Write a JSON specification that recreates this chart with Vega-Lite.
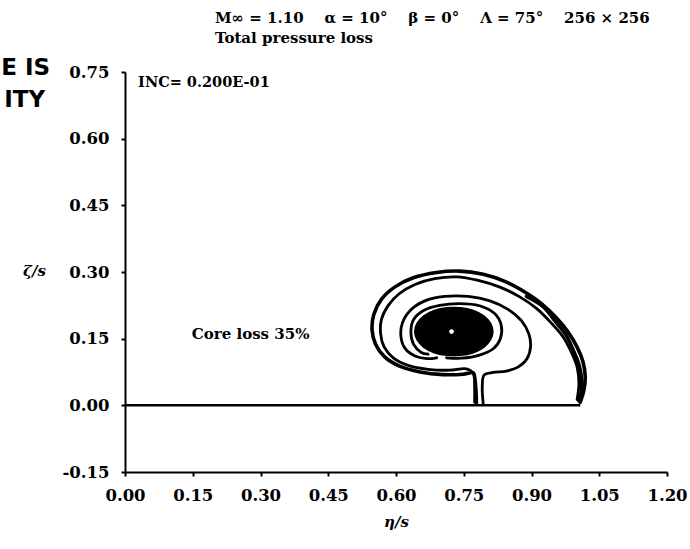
{
  "$schema": "https://vega.github.io/schema/vega-lite/v6.json",
  "width": 542,
  "height": 400,
  "autosize": {"type": "none"},
  "padding": {"left": 125, "top": 72, "right": 23, "bottom": 77},
  "background": "white",
  "config": {
    "view": {"stroke": null},
    "font": "DejaVu Serif"
  },
  "title": {
    "text": ["M∞ = 1.10\u00a0\u00a0\u00a0 α = 10°\u00a0\u00a0\u00a0 β = 0°\u00a0\u00a0\u00a0 Λ = 75°\u00a0\u00a0\u00a0 256 × 256", "Total pressure loss"],
    "anchor": "start",
    "frame": "group",
    "dx": 90,
    "dy": 14,
    "offset": 10,
    "baseline": "bottom",
    "font": "DejaVu Serif",
    "fontSize": 15,
    "fontWeight": "bold",
    "lineHeight": 20,
    "color": "black"
  },
  "datasets": {
    "contours": [
      {"c": "A", "i": 1, "x": 1.008, "y": 0.007},
      {"c": "A", "i": 2, "x": 1.016, "y": 0.034},
      {"c": "A", "i": 3, "x": 1.019, "y": 0.064},
      {"c": "A", "i": 4, "x": 1.014, "y": 0.098},
      {"c": "A", "i": 5, "x": 1.001, "y": 0.131},
      {"c": "A", "i": 6, "x": 0.981, "y": 0.165},
      {"c": "A", "i": 7, "x": 0.955, "y": 0.197},
      {"c": "A", "i": 8, "x": 0.922, "y": 0.229},
      {"c": "A", "i": 9, "x": 0.885, "y": 0.255},
      {"c": "A", "i": 10, "x": 0.841, "y": 0.279},
      {"c": "A", "i": 11, "x": 0.793, "y": 0.295},
      {"c": "A", "i": 12, "x": 0.741, "y": 0.302},
      {"c": "A", "i": 13, "x": 0.690, "y": 0.299},
      {"c": "A", "i": 14, "x": 0.638, "y": 0.287},
      {"c": "A", "i": 15, "x": 0.597, "y": 0.266},
      {"c": "A", "i": 16, "x": 0.568, "y": 0.239},
      {"c": "A", "i": 17, "x": 0.551, "y": 0.205},
      {"c": "A", "i": 18, "x": 0.547, "y": 0.170},
      {"c": "A", "i": 19, "x": 0.555, "y": 0.137},
      {"c": "A", "i": 20, "x": 0.575, "y": 0.109},
      {"c": "A", "i": 21, "x": 0.608, "y": 0.088},
      {"c": "A", "i": 22, "x": 0.653, "y": 0.075},
      {"c": "A", "i": 23, "x": 0.704, "y": 0.069},
      {"c": "A", "i": 24, "x": 0.749, "y": 0.070},
      {"c": "A", "i": 25, "x": 0.771, "y": 0.073},
      {"c": "A", "i": 26, "x": 0.774, "y": 0.064},
      {"c": "A", "i": 27, "x": 0.777, "y": 0.034},
      {"c": "A", "i": 28, "x": 0.778, "y": 0.005},
      {"c": "E", "i": 1, "x": 0.889, "y": 0.245},
      {"c": "E", "i": 2, "x": 0.927, "y": 0.221},
      {"c": "E", "i": 3, "x": 0.951, "y": 0.191},
      {"c": "E", "i": 4, "x": 0.976, "y": 0.159},
      {"c": "E", "i": 5, "x": 0.992, "y": 0.125},
      {"c": "E", "i": 6, "x": 1.005, "y": 0.092},
      {"c": "E", "i": 7, "x": 1.011, "y": 0.060},
      {"c": "E", "i": 8, "x": 1.010, "y": 0.030},
      {"c": "E", "i": 9, "x": 1.005, "y": 0.010},
      {"c": "B", "i": 1, "x": 1.001, "y": 0.013},
      {"c": "B", "i": 2, "x": 1.005, "y": 0.049},
      {"c": "B", "i": 3, "x": 1.001, "y": 0.086},
      {"c": "B", "i": 4, "x": 0.988, "y": 0.120},
      {"c": "B", "i": 5, "x": 0.970, "y": 0.154},
      {"c": "B", "i": 6, "x": 0.944, "y": 0.185},
      {"c": "B", "i": 7, "x": 0.911, "y": 0.218},
      {"c": "B", "i": 8, "x": 0.874, "y": 0.244},
      {"c": "B", "i": 9, "x": 0.830, "y": 0.266},
      {"c": "B", "i": 10, "x": 0.782, "y": 0.281},
      {"c": "B", "i": 11, "x": 0.734, "y": 0.289},
      {"c": "B", "i": 12, "x": 0.686, "y": 0.285},
      {"c": "B", "i": 13, "x": 0.642, "y": 0.272},
      {"c": "B", "i": 14, "x": 0.607, "y": 0.251},
      {"c": "B", "i": 15, "x": 0.583, "y": 0.225},
      {"c": "B", "i": 16, "x": 0.568, "y": 0.194},
      {"c": "B", "i": 17, "x": 0.566, "y": 0.161},
      {"c": "B", "i": 18, "x": 0.574, "y": 0.131},
      {"c": "B", "i": 19, "x": 0.594, "y": 0.107},
      {"c": "B", "i": 20, "x": 0.627, "y": 0.090},
      {"c": "B", "i": 21, "x": 0.671, "y": 0.081},
      {"c": "B", "i": 22, "x": 0.719, "y": 0.079},
      {"c": "B", "i": 23, "x": 0.756, "y": 0.082},
      {"c": "B", "i": 24, "x": 0.772, "y": 0.071},
      {"c": "B", "i": 25, "x": 0.774, "y": 0.041},
      {"c": "B", "i": 26, "x": 0.774, "y": 0.007},
      {"c": "C", "i": 1, "x": 0.793, "y": 0.005},
      {"c": "C", "i": 2, "x": 0.791, "y": 0.041},
      {"c": "C", "i": 3, "x": 0.795, "y": 0.068},
      {"c": "C", "i": 4, "x": 0.815, "y": 0.074},
      {"c": "C", "i": 5, "x": 0.844, "y": 0.077},
      {"c": "C", "i": 6, "x": 0.870, "y": 0.086},
      {"c": "C", "i": 7, "x": 0.890, "y": 0.105},
      {"c": "C", "i": 8, "x": 0.898, "y": 0.133},
      {"c": "C", "i": 9, "x": 0.894, "y": 0.161},
      {"c": "C", "i": 10, "x": 0.878, "y": 0.190},
      {"c": "C", "i": 11, "x": 0.848, "y": 0.216},
      {"c": "C", "i": 12, "x": 0.808, "y": 0.235},
      {"c": "C", "i": 13, "x": 0.760, "y": 0.245},
      {"c": "C", "i": 14, "x": 0.708, "y": 0.245},
      {"c": "C", "i": 15, "x": 0.664, "y": 0.235},
      {"c": "C", "i": 16, "x": 0.632, "y": 0.214},
      {"c": "C", "i": 17, "x": 0.614, "y": 0.185},
      {"c": "C", "i": 18, "x": 0.611, "y": 0.154},
      {"c": "C", "i": 19, "x": 0.620, "y": 0.128},
      {"c": "C", "i": 20, "x": 0.642, "y": 0.111},
      {"c": "C", "i": 21, "x": 0.669, "y": 0.105},
      {"c": "C", "i": 22, "x": 0.690, "y": 0.107},
      {"c": "D", "i": 1, "x": 0.671, "y": 0.115},
      {"c": "D", "i": 2, "x": 0.656, "y": 0.119},
      {"c": "D", "i": 3, "x": 0.639, "y": 0.137},
      {"c": "D", "i": 4, "x": 0.633, "y": 0.165},
      {"c": "D", "i": 5, "x": 0.639, "y": 0.193},
      {"c": "D", "i": 6, "x": 0.662, "y": 0.214},
      {"c": "D", "i": 7, "x": 0.697, "y": 0.225},
      {"c": "D", "i": 8, "x": 0.741, "y": 0.229},
      {"c": "D", "i": 9, "x": 0.785, "y": 0.224},
      {"c": "D", "i": 10, "x": 0.819, "y": 0.206},
      {"c": "D", "i": 11, "x": 0.833, "y": 0.180},
      {"c": "D", "i": 12, "x": 0.831, "y": 0.150},
      {"c": "D", "i": 13, "x": 0.816, "y": 0.128},
      {"c": "D", "i": 14, "x": 0.785, "y": 0.113},
      {"c": "D", "i": 15, "x": 0.745, "y": 0.106},
      {"c": "D", "i": 16, "x": 0.712, "y": 0.107}
    ],
    "core": [
      {"i": 1, "x": 0.814, "y": 0.166},
      {"i": 2, "x": 0.809, "y": 0.184},
      {"i": 3, "x": 0.794, "y": 0.201},
      {"i": 4, "x": 0.771, "y": 0.213},
      {"i": 5, "x": 0.743, "y": 0.219},
      {"i": 6, "x": 0.713, "y": 0.219},
      {"i": 7, "x": 0.685, "y": 0.213},
      {"i": 8, "x": 0.662, "y": 0.201},
      {"i": 9, "x": 0.647, "y": 0.184},
      {"i": 10, "x": 0.642, "y": 0.166},
      {"i": 11, "x": 0.647, "y": 0.148},
      {"i": 12, "x": 0.662, "y": 0.131},
      {"i": 13, "x": 0.685, "y": 0.119},
      {"i": 14, "x": 0.713, "y": 0.113},
      {"i": 15, "x": 0.743, "y": 0.113},
      {"i": 16, "x": 0.771, "y": 0.119},
      {"i": 17, "x": 0.794, "y": 0.131},
      {"i": 18, "x": 0.809, "y": 0.148}
    ],
    "surface": [
      {"i": 1, "x": 0.0, "y": 0.0},
      {"i": 2, "x": 1.008, "y": 0.0}
    ],
    "notes": [
      {"label": "INC= 0.200E-01", "x": 0.029, "y": 0.725, "kind": "inc"},
      {"label": "Core loss 35%", "x": 0.148, "y": 0.161, "kind": "core"}
    ]
  },
  "encoding": {
    "x": {
      "field": "x",
      "type": "quantitative",
      "scale": {"domain": [0, 1.2], "nice": false, "zero": false},
      "axis": {
        "title": "η/s",
        "values": [0, 0.15, 0.3, 0.45, 0.6, 0.75, 0.9, 1.05, 1.2],
        "labelExpr": "datum.value < 0 ? '-' + format(-datum.value, '.2f') : format(datum.value, '.2f')",
        "grid": false,
        "domainColor": "black",
        "domainWidth": 2,
        "tickColor": "black",
        "tickWidth": 2,
        "tickSize": 4,
        "labelFont": "DejaVu Serif",
        "labelFontWeight": "bold",
        "labelFontSize": 16.5,
        "labelColor": "black",
        "labelPadding": 11,
        "labelFlush": false,
        "titleFont": "DejaVu Serif",
        "titleFontStyle": "italic",
        "titleFontWeight": "bold",
        "titleFontSize": 15,
        "titleColor": "black",
        "titlePadding": 11
      }
    },
    "y": {
      "field": "y",
      "type": "quantitative",
      "scale": {"domain": [-0.15, 0.75], "nice": false, "zero": false},
      "axis": {
        "title": "ζ/s",
        "values": [-0.15, 0, 0.15, 0.3, 0.45, 0.6, 0.75],
        "labelExpr": "datum.value < 0 ? '-' + format(-datum.value, '.2f') : format(datum.value, '.2f')",
        "grid": false,
        "domainColor": "black",
        "domainWidth": 2,
        "tickColor": "black",
        "tickWidth": 2,
        "tickSize": 4,
        "labelFont": "DejaVu Serif",
        "labelFontWeight": "bold",
        "labelFontSize": 16.5,
        "labelColor": "black",
        "labelPadding": 12,
        "labelFlush": false,
        "titleFont": "DejaVu Serif",
        "titleFontStyle": "italic",
        "titleFontWeight": "bold",
        "titleFontSize": 15,
        "titleColor": "black",
        "titleAngle": 0,
        "titleAlign": "center",
        "titleBaseline": "middle",
        "titleX": -91,
        "titleY": 198
      }
    }
  },
  "layer": [
    {
      "data": {"name": "surface"},
      "mark": {"type": "line", "stroke": "black", "strokeWidth": 2.5},
      "encoding": {"order": {"field": "i", "type": "quantitative"}}
    },
    {
      "data": {"name": "contours"},
      "transform": [{"filter": "datum.c === 'A' || datum.c === 'E'"}],
      "mark": {"type": "line", "stroke": "black", "strokeWidth": 3.6, "interpolate": "catmull-rom", "strokeJoin": "round", "strokeCap": "round"},
      "encoding": {
        "detail": {"field": "c", "type": "nominal"},
        "order": {"field": "i", "type": "quantitative"}
      }
    },
    {
      "data": {"name": "contours"},
      "transform": [{"filter": "datum.c === 'B' || datum.c === 'C' || datum.c === 'D'"}],
      "mark": {"type": "line", "stroke": "black", "strokeWidth": 2.8, "interpolate": "catmull-rom", "strokeJoin": "round", "strokeCap": "round"},
      "encoding": {
        "detail": {"field": "c", "type": "nominal"},
        "order": {"field": "i", "type": "quantitative"}
      }
    },
    {
      "data": {"name": "core"},
      "mark": {"type": "line", "stroke": "black", "fill": "black", "strokeWidth": 2, "interpolate": "cardinal-closed"},
      "encoding": {"order": {"field": "i", "type": "quantitative"}}
    },
    {
      "data": {"values": [{"x": 0.723, "y": 0.166}]},
      "mark": {"type": "point", "shape": "circle", "filled": true, "color": "white", "size": 22, "opacity": 1}
    },
    {
      "data": {"name": "notes"},
      "transform": [{"filter": "datum.kind === 'inc'"}],
      "mark": {"type": "text", "align": "left", "baseline": "middle", "font": "DejaVu Serif", "fontWeight": "bold", "fontSize": 14.5, "color": "black"},
      "encoding": {"text": {"field": "label"}}
    },
    {
      "data": {"name": "notes"},
      "transform": [{"filter": "datum.kind === 'core'"}],
      "mark": {"type": "text", "align": "left", "baseline": "middle", "font": "DejaVu Serif", "fontWeight": "bold", "fontSize": 15, "color": "black"},
      "encoding": {"text": {"field": "label"}}
    },
    {
      "data": {"values": [
        {"label": "E IS", "x": -0.166, "y": 0.759},
        {"label": "ITY", "x": -0.177, "y": 0.686}
      ]},
      "mark": {"type": "text", "align": "right", "baseline": "middle", "font": "DejaVu Sans", "fontWeight": "bold", "fontSize": 23, "color": "black"},
      "encoding": {"text": {"field": "label"}}
    }
  ]
}
